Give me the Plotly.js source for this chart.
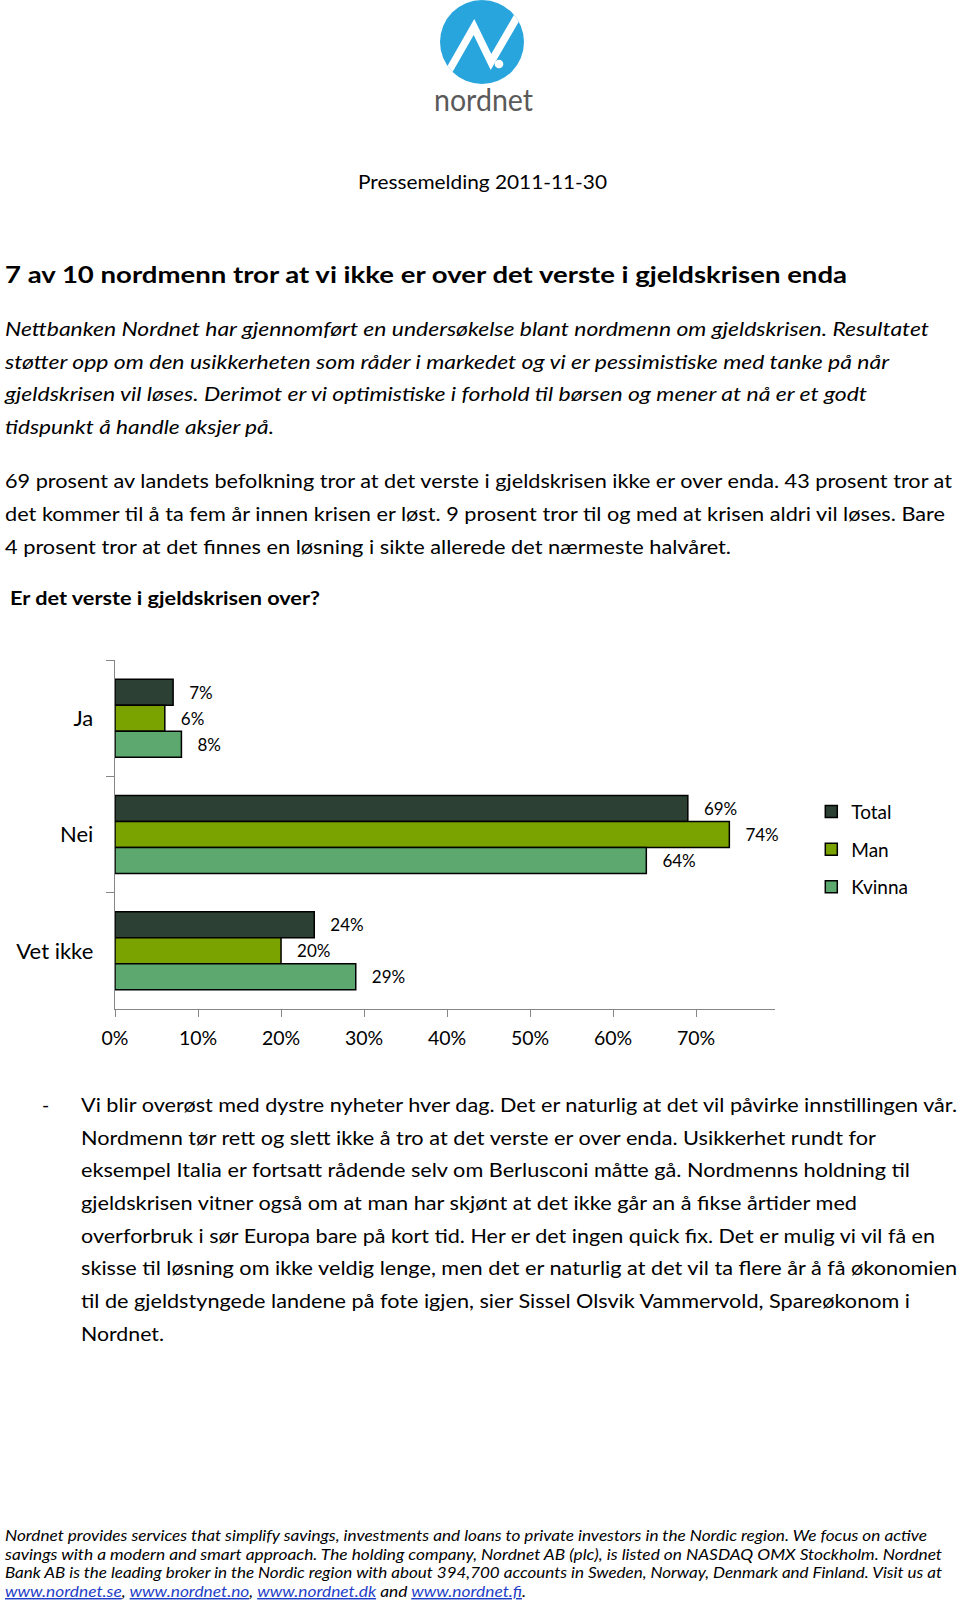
<!DOCTYPE html>
<html><head><meta charset="utf-8">
<script src="https://cdn.plot.ly/plotly-3.0.1.min.js"></script>
<style>
html,body{margin:0;padding:0;background:#fff;width:960px;height:1604px;overflow:hidden;}
#page{position:absolute;left:0;top:0;}
#chart{position:absolute;left:0;top:640px;width:960px;height:420px;}
</style></head><body>
<svg id="page" width="960" height="1604" xmlns="http://www.w3.org/2000/svg"></svg>
<div id="chart"></div>
<script>
// ---- chart data ----
const categories = ['Ja', 'Nei', 'Vet ikke'];
const seriesNames = ['Total', 'Man', 'Kvinna'];
const totalValues = [7, 69, 24];
const manValues = [6, 74, 20];
const kvinnaValues = [8, 64, 29];
const xTickValues = [0, 10, 20, 30, 40, 50, 60, 70];
const xTickLabels = ['0%', '10%', '20%', '30%', '40%', '50%', '60%', '70%'];
const barColors = ['#2C4133', '#7BA300', '#5DA86F'];

// ---- page text ----
const logoText = 'nordnet';
const pressLine = 'Pressemelding 2011-11-30';
const headline = '7 av 10 nordmenn tror at vi ikke er over det verste i gjeldskrisen enda';
const introLines = [
  'Nettbanken Nordnet har gjennomført en undersøkelse blant nordmenn om gjeldskrisen. Resultatet',
  'støtter opp om den usikkerheten som råder i markedet og vi er pessimistiske med tanke på når',
  'gjeldskrisen vil løses. Derimot er vi optimistiske i forhold til børsen og mener at nå er et godt',
  'tidspunkt å handle aksjer på.'
];
const factLines = [
  '69 prosent av landets befolkning tror at det verste i gjeldskrisen ikke er over enda. 43 prosent tror at',
  'det kommer til å ta fem år innen krisen er løst. 9 prosent tror til og med at krisen aldri vil løses. Bare',
  '4 prosent tror at det finnes en løsning i sikte allerede det nærmeste halvåret.'
];
const chartHeading = 'Er det verste i gjeldskrisen over?';
const quoteLines = [
  'Vi blir overøst med dystre nyheter hver dag. Det er naturlig at det vil påvirke innstillingen vår.',
  'Nordmenn tør rett og slett ikke å tro at det verste er over enda. Usikkerhet rundt for',
  'eksempel Italia er fortsatt rådende selv om Berlusconi måtte gå. Nordmenns holdning til',
  'gjeldskrisen vitner også om at man har skjønt at det ikke går an å fikse årtider med',
  'overforbruk i sør Europa bare på kort tid. Her er det ingen quick fix. Det er mulig vi vil få en',
  'skisse til løsning om ikke veldig lenge, men det er naturlig at det vil ta flere år å få økonomien',
  'til de gjeldstyngede landene på fote igjen, sier Sissel Olsvik Vammervold, Spareøkonom i',
  'Nordnet.'
];
const footerLines = [
  'Nordnet provides services that simplify savings, investments and loans to private investors in the Nordic region. We focus on active',
  'savings with a modern and smart approach. The holding company, Nordnet AB (plc), is listed on NASDAQ OMX Stockholm. Nordnet',
  'Bank AB is the leading broker in the Nordic region with about 394,700 accounts in Sweden, Norway, Denmark and Finland. Visit us at'
];
const footerLinks = ['www.nordnet.se', 'www.nordnet.no', 'www.nordnet.dk', 'www.nordnet.fi'];
const footerSeparators = [', ', ', ', ' and ', '.'];

// ---- draw page ----
const NS = 'http://www.w3.org/2000/svg';
const svg = document.getElementById('page');
function el(tag, attrs, parent) {
  const e = document.createElementNS(NS, tag);
  for (const k in attrs) e.setAttribute(k, attrs[k]);
  (parent || svg).appendChild(e);
  return e;
}
function txt(str, x, b, w, fs, opt) {
  opt = opt || {};
  const t = el('text', {x: x, y: b, 'font-family': opt.family || 'Lato', 'font-size': fs,
    'font-style': opt.italic ? 'italic' : 'normal', 'font-weight': opt.weight || 400, fill: opt.fill || '#000'});
  if (w) { t.setAttribute('textLength', w); t.setAttribute('lengthAdjust', 'spacingAndGlyphs'); }
  if (str !== null) t.textContent = str;
  return t;
}

// logo
const defs = el('defs', {});
const cp = el('clipPath', {id: 'logoClip'}, defs);
el('circle', {cx: 482, cy: 42, r: 42}, cp);
el('circle', {cx: 482, cy: 42, r: 42, fill: '#29A5DE'});
el('polyline', {points: '446,76 474,27 491,62 520,12', fill: 'none', stroke: '#fff', 'stroke-width': 7.5,
  'stroke-linejoin': 'miter', 'clip-path': 'url(#logoClip)'});
el('circle', {cx: 499, cy: 64, r: 4.3, fill: '#fff'});
txt(logoText, 434, 111, 99, 30, {fill: '#5a5a5a', weight: 400});

txt(pressLine, 358, 189, 249, 20);
txt(headline, 5, 283, 842, 23, {weight: 700});
const introW = [924, 884, 862, 269];
introLines.forEach((s, i) => txt(s, 5, 336 + i * 32.7, introW[i], 19.5, {italic: true}));
const factW = [947, 940, 726];
factLines.forEach((s, i) => txt(s, 5, 488 + i * 32.8, factW[i], 19.5));
txt(chartHeading, 10, 605, 310, 19.5, {weight: 700});
txt('-', 42, 1112, null, 19.5);
const quoteW = [876, 795, 829, 776, 854, 876, 829, 83];
quoteLines.forEach((s, i) => txt(s, 81, 1112 + i * 32.65, quoteW[i], 19.5));
const footW = [922, 937, 937];
footerLines.forEach((s, i) => txt(s, 5, 1541 + i * 18.6, footW[i], 14.5, {italic: true}));
const fl = txt(null, 5, 1597, 521, 14.5, {italic: true});
footerLinks.forEach((lk, i) => {
  const a = el('tspan', {fill: '#1F3FC8', 'text-decoration': 'underline'}, fl);
  a.textContent = lk;
  const s = el('tspan', {}, fl);
  s.textContent = footerSeparators[i];
});

// ---- chart ----
const seriesValues = [totalValues, manValues, kvinnaValues];
const traces = seriesNames.map((n, i) => ({
  type: 'bar', orientation: 'h', name: n, legendgroup: n,
  y: categories, x: seriesValues[i],
  marker: {color: barColors[i], line: {color: '#000', width: 1.5}},
  text: seriesValues[i].map(v => '\u00a0\u00a0\u00a0' + v + '%'),
  textposition: 'outside', constraintext: 'none',
  textfont: {family: 'Lato', size: 17, color: '#000'}, cliponaxis: false, hoverinfo: 'skip'
}));
const layout = {
  width: 960, height: 420,
  margin: {l: 115, r: 185, t: 20, b: 51},
  paper_bgcolor: 'rgba(0,0,0,0)', plot_bgcolor: 'rgba(0,0,0,0)',
  barmode: 'group', bargap: 0.33, bargroupgap: 0,
  font: {family: 'Lato', color: '#000'},
  showlegend: true,
  xaxis: {range: [0, 79.5], tickvals: xTickValues, ticktext: xTickLabels, ticks: 'outside', ticklen: 7,
    tickcolor: '#868686', showline: true, linecolor: '#868686', linewidth: 1.3, showgrid: false,
    zeroline: false, tickfont: {size: 19.5}, ticklabelstandoff: 4},
  yaxis: {type: 'category', categoryorder: 'array', categoryarray: categories, autorange: 'reversed',
    tickson: 'boundaries', ticks: 'outside', ticklen: 8, tickcolor: '#868686', showline: true,
    linecolor: '#868686', linewidth: 1.3, showgrid: false, tickfont: {size: 22}, ticklabelstandoff: 16},
  legend: {x: 1.055, xanchor: 'left', y: 0.62, yanchor: 'top', traceorder: 'grouped', tracegroupgap: 10,
    font: {size: 19}, bgcolor: 'rgba(0,0,0,0)'}
};
Plotly.newPlot('chart', traces, layout, {staticPlot: true, displayModeBar: false});
</script>
</body></html>
